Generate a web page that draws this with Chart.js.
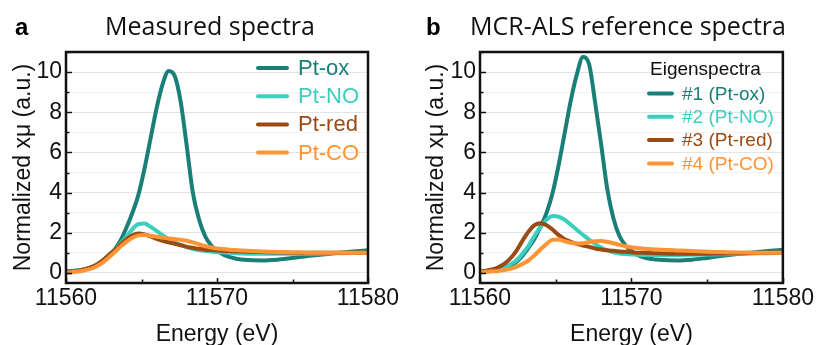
<!DOCTYPE html>
<html>
<head>
<meta charset="utf-8">
<script src="https://cdn.jsdelivr.net/npm/chart.js@4.4.1/dist/chart.umd.min.js"></script>
<style>
  html, body { margin: 0; padding: 0; background: #fff; }
  #wrap { position: relative; width: 816px; height: 345px; overflow: hidden; }
  .panel { position: absolute; top: 0; width: 408px; height: 345px; }
</style>
</head>
<body>
<div id="wrap">
  <div class="panel" style="left:0"><canvas id="chartA" width="408" height="345"></canvas></div>
  <div class="panel" style="left:408px"><canvas id="chartB" width="408" height="345"></canvas></div>
</div>
<script>
// energy grid (eV), shared by all spectra
const energies = [11560, 11560.4, 11560.8, 11561.2, 11561.6, 11562, 11562.4, 11562.8, 11563.2, 11563.6,
  11564, 11564.4, 11564.8, 11565.2, 11565.6, 11566, 11566.4, 11566.8, 11567.2, 11567.6,
  11568, 11568.4, 11568.8, 11569.2, 11569.6, 11570, 11570.4, 11570.8, 11571.2, 11571.6,
  11572, 11573, 11574, 11575, 11576, 11577, 11578, 11579, 11580]

const yTicks = [0, 1, 2, 3, 4, 5, 6, 7, 8, 9, 10, 11]
const xTicks = [11560, 11565, 11570, 11575, 11580]

// panel a - measured spectra
const measuredLabels = ['Pt-ox', 'Pt-NO', 'Pt-red', 'Pt-CO']
const measuredOx = [0.08, 0.10, 0.13, 0.18, 0.26, 0.38, 0.56, 0.82, 1.15, 1.60,
  2.25, 3.00, 3.90, 5.20, 6.70, 8.20, 9.40, 10.05, 9.80, 8.50,
  6.30, 4.00, 2.70, 1.85, 1.38, 1.12, 0.92, 0.80, 0.72, 0.67,
  0.64, 0.62, 0.66, 0.74, 0.84, 0.92, 1.00, 1.07, 1.13]
const measuredNO = [0.06, 0.08, 0.11, 0.17, 0.27, 0.40, 0.60, 0.87, 1.14, 1.45,
  1.80, 2.18, 2.44, 2.46, 2.30, 2.10, 1.88, 1.68, 1.52, 1.40,
  1.28, 1.20, 1.14, 1.10, 1.07, 1.04, 1.02, 1.00, 0.98, 0.97,
  0.96, 0.95, 0.95, 0.95, 0.96, 0.97, 0.98, 0.99, 1.00]
const measuredRed = [0.05, 0.07, 0.10, 0.17, 0.27, 0.40, 0.60, 0.87, 1.12, 1.40,
  1.68, 1.88, 1.97, 1.92, 1.82, 1.70, 1.60, 1.52, 1.45, 1.38,
  1.30, 1.25, 1.20, 1.16, 1.14, 1.12, 1.10, 1.09, 1.08, 1.07,
  1.06, 1.04, 1.02, 1.01, 1.00, 1.00, 1.00, 1.00, 1.00]
const measuredCO = [0.02, 0.04, 0.07, 0.12, 0.20, 0.32, 0.50, 0.75, 1.02, 1.30,
  1.55, 1.75, 1.87, 1.89, 1.85, 1.80, 1.76, 1.72, 1.69, 1.65,
  1.60, 1.52, 1.43, 1.34, 1.27, 1.22, 1.19, 1.16, 1.14, 1.12,
  1.10, 1.07, 1.04, 1.02, 1.01, 1.00, 1.00, 1.00, 1.00]

// panel b - MCR-ALS eigenspectra
const eigenLabels = ['#1 (Pt-ox)', '#2 (Pt-NO)', '#3 (Pt-red)', '#4 (Pt-CO)']
const eigen1 = [0.06, 0.08, 0.12, 0.18, 0.27, 0.38, 0.55, 0.85, 1.25, 1.70,
  2.30, 3.00, 4.00, 5.40, 7.00, 8.60, 9.90, 10.75, 10.40, 8.50,
  6.40, 4.20, 2.75, 1.85, 1.38, 1.10, 0.90, 0.78, 0.71, 0.67,
  0.64, 0.62, 0.66, 0.75, 0.85, 0.94, 1.02, 1.09, 1.15]
const eigen2 = [0.06, 0.08, 0.12, 0.18, 0.27, 0.42, 0.62, 0.95, 1.35, 1.85,
  2.30, 2.65, 2.83, 2.80, 2.64, 2.40, 2.14, 1.90, 1.66, 1.45,
  1.27, 1.13, 1.03, 0.97, 0.94, 0.92, 0.91, 0.90, 0.90, 0.90,
  0.90, 0.90, 0.91, 0.92, 0.93, 0.95, 0.97, 0.98, 1.00]
const eigen3 = [0.08, 0.11, 0.17, 0.28, 0.45, 0.72, 1.10, 1.60, 2.05, 2.38,
  2.48, 2.38, 2.15, 1.88, 1.68, 1.55, 1.45, 1.37, 1.30, 1.22,
  1.17, 1.13, 1.10, 1.07, 1.05, 1.03, 1.01, 1.00, 0.99, 0.98,
  0.97, 0.96, 0.96, 0.96, 0.97, 0.98, 0.99, 1.00, 1.00]
const eigen4 = [0.05, 0.06, 0.08, 0.10, 0.14, 0.20, 0.30, 0.45, 0.62, 0.88,
  1.18, 1.45, 1.65, 1.66, 1.58, 1.50, 1.47, 1.48, 1.53, 1.58,
  1.59, 1.55, 1.48, 1.40, 1.33, 1.28, 1.24, 1.21, 1.19, 1.17,
  1.16, 1.12, 1.09, 1.06, 1.04, 1.02, 1.01, 1.00, 1.00]

const colors = ['#1a8077', '#3dcfbd', '#9a4a14', '#ff9434']

const tickFont = { family: '"Liberation Sans", Arial, sans-serif', size: 23 }

function decorations(cfg) {
  return {
    id: 'decorations',
    afterDatasetsDraw(chart) {
      const { ctx, chartArea: a, scales: { x, y } } = chart
      ctx.save()
      ctx.strokeStyle = '#111'
      ctx.lineWidth = 1.5
      ctx.beginPath()
      yTicks.forEach(v => {
        const py = Math.round(y.getPixelForValue(v)) + 0.5
        const len = v % 2 === 0 ? 6 : 3.5
        ctx.moveTo(a.left, py)
        ctx.lineTo(a.left + len, py)
      })
      xTicks.forEach(v => {
        const px = Math.round(x.getPixelForValue(v)) + 0.5
        const len = v % 10 === 0 ? 5 : 3.5
        ctx.moveTo(px, a.bottom)
        ctx.lineTo(px, a.bottom - len)
      })
      ctx.stroke()
      ctx.lineWidth = 2.5
      ctx.strokeRect(a.left, a.top, a.right - a.left, a.bottom - a.top)
      ctx.restore()
    },
    afterDraw(chart) {
      const { ctx } = chart
      ctx.save()
      // panel letter and title
      ctx.fillStyle = '#000'
      ctx.textBaseline = 'alphabetic'
      ctx.textAlign = 'left'
      ctx.font = 'bold 24px "Liberation Sans", Arial, sans-serif'
      ctx.fillText(cfg.letter, cfg.letterX, 35)
      ctx.textAlign = 'center'
      ctx.font = '25px "Open Sans", sans-serif'
      ctx.fillStyle = '#111'
      ctx.fillText(cfg.title, cfg.titleX, 35)

      // legend
      ctx.textAlign = 'left'
      ctx.textBaseline = 'middle'
      const lg = cfg.legend
      ctx.font = lg.size + 'px "Liberation Sans", Arial, sans-serif'
      if (lg.header) {
        ctx.fillStyle = '#111'
        ctx.fillText(lg.header, lg.headerX, lg.headerY)
      }
      chart.data.datasets.forEach((ds, i) => {
        const yy = lg.y0 + i * lg.dy
        ctx.strokeStyle = ds.borderColor
        ctx.lineWidth = 4
        ctx.lineCap = 'round'
        ctx.beginPath()
        ctx.moveTo(lg.x1, yy)
        ctx.lineTo(lg.x2, yy)
        ctx.stroke()
        ctx.fillStyle = ds.borderColor
        ctx.fillText(ds.label, lg.textX, yy + 1)
      })
      ctx.restore()
    }
  }
}

function buildChart(canvasId, labels, series, cfg) {
  const datasets = series.map((vals, i) => ({
    label: labels[i],
    data: energies.map((e, k) => ({ x: e, y: vals[k] })),
    borderColor: colors[i],
    backgroundColor: colors[i],
    borderWidth: 4,
    pointRadius: 0,
    cubicInterpolationMode: 'monotone',
    fill: false,
    order: series.length - 1 - i
  }))

  return new Chart(document.getElementById(canvasId), {
    type: 'line',
    data: { datasets },
    options: {
      responsive: false,
      animation: false,
      devicePixelRatio: 1,
      layout: { padding: { left: cfg.padLeft, right: cfg.padRight, top: 52, bottom: 0 } },
      plugins: { legend: { display: false }, tooltip: { enabled: false } },
      scales: {
        x: {
          type: 'linear',
          min: 11560,
          max: 11580,
          afterBuildTicks: s => { s.ticks = xTicks.map(v => ({ value: v })) },
          afterFit: s => { s.height = 62 },
          grid: { display: false, drawTicks: false },
          border: { display: false },
          ticks: {
            autoSkip: false,
            maxRotation: 0,
            padding: 2,
            color: '#111',
            font: tickFont,
            callback: v => (v % 10 === 0 ? String(v) : '')
          },
          title: {
            display: true,
            text: 'Energy (eV)',
            color: '#111',
            font: tickFont,
            padding: { top: 0, bottom: -3 }
          }
        },
        y: {
          min: -0.5,
          max: 11,
          afterBuildTicks: s => { s.ticks = yTicks.map(v => ({ value: v })) },
          afterFit: s => { s.width = cfg.yWidth },
          grid: {
            drawTicks: false,
            color: c => (c.tick && c.tick.value % 2 === 0 ? '#e4e4e4' : '#f3f3f3')
          },
          border: { display: false },
          ticks: {
            autoSkip: false,
            padding: 4,
            color: '#111',
            font: tickFont,
            callback: v => (v % 2 === 0 ? String(v) : '')
          },
          title: {
            display: true,
            text: 'Normalized xμ (a.u.)',
            color: '#111',
            font: tickFont,
            padding: { top: 10, bottom: 0 }
          }
        }
      }
    },
    plugins: [decorations(cfg)]
  })
}

buildChart('chartA', measuredLabels, [measuredOx, measuredNO, measuredRed, measuredCO], {
  padLeft: 0, padRight: 40, yWidth: 66,
  letter: 'a', letterX: 15, title: 'Measured spectra', titleX: 210,
  legend: { size: 22, x1: 258, x2: 287, textX: 298, y0: 68, dy: 28.2 }
})

buildChart('chartB', eigenLabels, [eigen1, eigen2, eigen3, eigen4], {
  padLeft: 5, padRight: 24, yWidth: 67,
  letter: 'b', letterX: 18, title: 'MCR-ALS reference spectra', titleX: 220,
  legend: { size: 19, header: 'Eigenspectra', headerX: 242, headerY: 70,
            x1: 241, x2: 264, textX: 274, y0: 93.5, dy: 23.3 }
})
</script>
</body>
</html>
